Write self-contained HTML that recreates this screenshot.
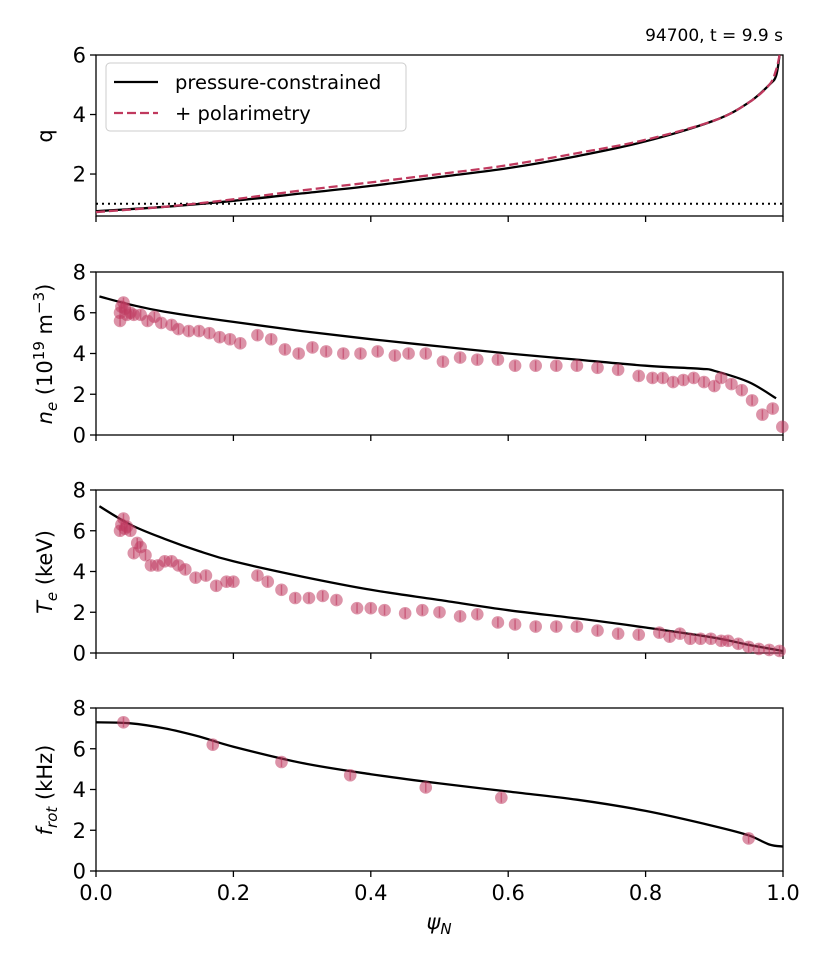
<!DOCTYPE html>
<html><head><meta charset="utf-8"><style>
body{margin:0;background:#fff}
svg{display:block;font-family:"DejaVu Sans","Liberation Sans",sans-serif}
</style></head><body>
<svg id="c" width="830" height="969" viewBox="0 0 830 969"></svg>
<script>
const qPsi=[0,0.1,0.2,0.3,0.4,0.5,0.6,0.7,0.8,0.9,0.95,0.98,0.99,0.995];
const qPres=[0.75,0.9,1.1,1.35,1.6,1.9,2.2,2.6,3.1,3.8,4.4,5.0,5.3,6.0];
const qPol=[0.72,0.9,1.15,1.45,1.72,2.0,2.3,2.7,3.15,3.8,4.4,5.0,5.5,6.0];
const neLinePsi=[0.005,0.05,0.1,0.2,0.3,0.4,0.5,0.6,0.7,0.8,0.88,0.9,0.95,0.99];
const neLine=[6.8,6.4,6.05,5.55,5.1,4.7,4.35,4.0,3.7,3.4,3.25,3.15,2.6,1.8];
const nePsi=[0.035,0.035,0.037,0.04,0.042,0.045,0.05,0.055,0.065,0.075,0.085,0.095,0.11,0.12,0.135,0.15,0.165,0.18,0.195,0.21,0.235,0.255,0.275,0.295,0.315,0.335,0.36,0.385,0.41,0.435,0.455,0.48,0.505,0.53,0.555,0.585,0.61,0.64,0.67,0.7,0.73,0.76,0.79,0.81,0.825,0.84,0.855,0.87,0.885,0.9,0.91,0.925,0.94,0.955,0.97,0.985,0.999];
const neVal=[5.6,6.0,6.3,6.5,6.2,5.9,6.0,5.9,5.9,5.6,5.8,5.5,5.4,5.2,5.1,5.1,5.0,4.8,4.7,4.5,4.9,4.7,4.2,4.0,4.3,4.1,4.0,4.0,4.1,3.9,4.0,4.0,3.6,3.8,3.7,3.7,3.4,3.4,3.4,3.4,3.3,3.2,2.9,2.8,2.8,2.6,2.7,2.8,2.6,2.4,2.8,2.5,2.2,1.7,1.0,1.3,0.4];
const teLinePsi=[0.005,0.05,0.1,0.15,0.2,0.3,0.4,0.5,0.6,0.7,0.8,0.9,0.95,1.0];
const teLine=[7.2,6.3,5.6,5.0,4.5,3.75,3.1,2.6,2.1,1.7,1.25,0.75,0.4,0.1];
const tePsi=[0.035,0.037,0.04,0.042,0.045,0.05,0.055,0.06,0.065,0.072,0.08,0.09,0.1,0.11,0.12,0.13,0.145,0.16,0.175,0.19,0.2,0.235,0.25,0.27,0.29,0.31,0.33,0.35,0.38,0.4,0.42,0.45,0.475,0.5,0.53,0.555,0.585,0.61,0.64,0.67,0.7,0.73,0.76,0.79,0.82,0.835,0.85,0.865,0.88,0.895,0.91,0.92,0.935,0.95,0.965,0.98,0.995];
const teVal=[6.0,6.3,6.6,6.1,6.2,6.0,4.9,5.4,5.2,4.8,4.3,4.3,4.5,4.5,4.3,4.1,3.7,3.8,3.3,3.5,3.5,3.8,3.5,3.1,2.7,2.7,2.8,2.6,2.2,2.2,2.1,1.95,2.1,2.0,1.8,1.9,1.5,1.4,1.3,1.3,1.3,1.1,0.95,0.9,1.0,0.8,0.95,0.7,0.7,0.7,0.6,0.6,0.45,0.3,0.2,0.15,0.1];
const frLinePsi=[0,0.05,0.1,0.15,0.2,0.3,0.4,0.5,0.6,0.7,0.8,0.9,0.95,0.98,1.0];
const frLine=[7.3,7.25,7.0,6.6,6.1,5.3,4.75,4.3,3.9,3.5,2.95,2.2,1.75,1.3,1.2];
const frPsi=[0.04,0.17,0.27,0.37,0.48,0.59,0.95];
const frVal=[7.3,6.2,5.35,4.7,4.1,3.6,1.6];
const xTicks=[0,0.2,0.4,0.6,0.8,1.0];
const xTickLabels=["0.0","0.2","0.4","0.6","0.8","1.0"];

const svg=document.getElementById('c');
const NS='http://www.w3.org/2000/svg';
function mk(t,a,p){const e=document.createElementNS(NS,t);for(const k in a)e.setAttribute(k,a[k]);(p||svg).appendChild(e);return e;}
const X0=96,X1=783;
const sx=v=>X0+(X1-X0)*v;
const panels=[
 {name:'q-panel',top:55,bot:216,ymin:0.59,ymax:6,ticks:[2,4,6]},
 {name:'ne-panel',top:272,bot:435,ymin:0,ymax:8,ticks:[0,2,4,6,8]},
 {name:'te-panel',top:490,bot:653,ymin:0,ymax:8,ticks:[0,2,4,6,8]},
 {name:'frot-panel',top:708,bot:871,ymin:0,ymax:8,ticks:[0,2,4,6,8]}];
panels.forEach(p=>p.sy=v=>p.bot-(v-p.ymin)/(p.ymax-p.ymin)*(p.bot-p.top));
function smoothPath(P){
 let d='M'+P[0][0].toFixed(1)+','+P[0][1].toFixed(1);
 for(let i=0;i<P.length-1;i++){
  const p0=P[i-1]||P[i],p1=P[i],p2=P[i+1],p3=P[i+2]||p2;
  const c1=[p1[0]+(p2[0]-p0[0])/6,p1[1]+(p2[1]-p0[1])/6];
  const c2=[p2[0]-(p3[0]-p1[0])/6,p2[1]-(p3[1]-p1[1])/6];
  d+='C'+c1.map(v=>v.toFixed(1)).join(',')+' '+c2.map(v=>v.toFixed(1)).join(',')+' '+p2[0].toFixed(1)+','+p2[1].toFixed(1);
 }
 return d;
}
function line(p,xs,ys,attrs,name){
 const P=xs.map((x,i)=>[sx(x),p.sy(ys[i])]);
 const e=mk('path',Object.assign({d:smoothPath(P),fill:'none'},attrs));
 
 
}
function pts(p,xs,ys,name){
 const g=mk('g',{});
 
 
 xs.forEach((x,i)=>{
  const c=mk('circle',{cx:sx(x),cy:p.sy(ys[i]),r:6.3,fill:'rgba(192,58,96,0.55)'},g);
  
  
  mk('line',{x1:sx(x),x2:sx(x),y1:p.sy(ys[i])-5,y2:p.sy(ys[i])+5,stroke:'rgba(192,58,96,0.6)','stroke-width':1.5},g);
 });
}
panels.forEach((p,pi)=>{
 const g=mk('g',{});
 
 
 mk('rect',{x:X0,y:p.top,width:X1-X0,height:p.bot-p.top,fill:'none',stroke:'#000','stroke-width':1.3},g);
 p.ticks.forEach(t=>{const y=p.sy(t);mk('line',{x1:X0-6,x2:X0,y1:y,y2:y,stroke:'#000','stroke-width':1.3},g);
  const tx=mk('text',{x:X0-10,y:y+7.5,'text-anchor':'end','font-size':21},g);tx.textContent=t;});
 xTicks.forEach((t,i)=>{const x=sx(t);mk('line',{x1:x,x2:x,y1:p.bot,y2:p.bot+6,stroke:'#000','stroke-width':1.3},g);
  if(pi===3){const tx=mk('text',{x:x,y:p.bot+29,'text-anchor':'middle','font-size':21},g);tx.textContent=xTickLabels[i];}});
});
const P=panels;
mk('line',{x1:X0,x2:X1,y1:P[0].sy(1),y2:P[0].sy(1),stroke:'#000','stroke-width':2,'stroke-dasharray':'2,4'});
line(P[0],qPsi,qPres,{stroke:'#000','stroke-width':2.3},'q-pressure-line');
line(P[0],qPsi,qPol,{stroke:'#c0395e','stroke-width':2.3,'stroke-dasharray':'9,4'},'q-polarimetry-line');
line(P[1],neLinePsi,neLine,{stroke:'#000','stroke-width':2.3},'ne-fit-line');
pts(P[1],nePsi,neVal,'ne-data');
line(P[2],teLinePsi,teLine,{stroke:'#000','stroke-width':2.3},'te-fit-line');
pts(P[2],tePsi,teVal,'te-data');
line(P[3],frLinePsi,frLine,{stroke:'#000','stroke-width':2.3},'frot-fit-line');
pts(P[3],frPsi,frVal,'frot-data');
</script>
<div style="position:absolute;left:0;top:0;width:830px;height:969px;pointer-events:none">
<svg width="830" height="969" style="position:absolute;left:0;top:0">
<text x="783" y="41" text-anchor="end" font-size="17" font-family="DejaVu Sans,sans-serif">94700, t = 9.9 s</text>
<g>
<rect x="106" y="63" width="300" height="68" rx="4" fill="#fff" fill-opacity="0.85" stroke="#ccc"/>
<line x1="114" y1="82" x2="158" y2="82" stroke="#000" stroke-width="2.3"/>
<text x="175" y="89" font-size="19.5" font-family="DejaVu Sans,sans-serif">pressure-constrained</text>
<line x1="114" y1="113" x2="158" y2="113" stroke="#c0395e" stroke-width="2.3" stroke-dasharray="9,4"/>
<text x="175" y="120" font-size="19.5" font-family="DejaVu Sans,sans-serif"> + polarimetry</text>
</g>
<text transform="translate(52,136) rotate(-90)" text-anchor="middle" font-size="21" font-family="DejaVu Sans,sans-serif">q</text>
<text transform="translate(52,354) rotate(-90)" text-anchor="middle" font-size="21" font-family="DejaVu Sans,sans-serif"><tspan font-style="italic">n</tspan><tspan font-style="italic" font-size="15" dy="5">e</tspan><tspan dy="-5"> (10</tspan><tspan font-size="15" dy="-8">19</tspan><tspan dy="8"> m</tspan><tspan font-size="15" dy="-8">−3</tspan><tspan dy="8">)</tspan></text>
<text transform="translate(52,572) rotate(-90)" text-anchor="middle" font-size="21" font-family="DejaVu Sans,sans-serif"><tspan font-style="italic">T</tspan><tspan font-style="italic" font-size="15" dy="5">e</tspan><tspan dy="-5"> (keV)</tspan></text>
<text transform="translate(52,790) rotate(-90)" text-anchor="middle" font-size="21" font-family="DejaVu Sans,sans-serif"><tspan font-style="italic">f</tspan><tspan font-style="italic" font-size="15" dy="5">rot</tspan><tspan dy="-5"> (kHz)</tspan></text>
<text x="439" y="929" text-anchor="middle" font-size="21" font-family="DejaVu Sans,sans-serif"><tspan font-style="italic">ψ</tspan><tspan font-style="italic" font-size="15" dy="5">N</tspan></text>
</svg></div>
</body></html>
